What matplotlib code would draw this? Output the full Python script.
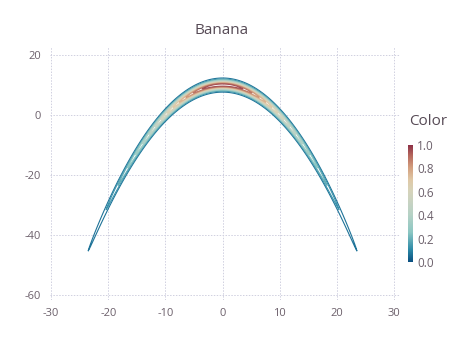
import matplotlib
matplotlib.use("Agg")
import matplotlib.pyplot as plt
import numpy as np
from matplotlib.colors import LinearSegmentedColormap

# Banana density parameters
sigma_x = 10.0      # spread along x
bend = 0.1          # curvature of the banana
sigma_y = 1.0       # spread across the band
n_levels = 15       # number of contour levels

# grid on which the density is evaluated
x_range = (-30, 30)
y_range = (-60, 20)

# colormap stops, sampled from the colour key
cmap_stops = [0.0, 0.1, 0.25, 0.4, 0.5, 0.6, 0.7, 0.8, 0.9, 1.0]
cmap_colors = ["#0b4f80", "#2a88a6", "#8cc7c3", "#b6d2c6", "#c7d3c3",
               "#d6d4bb", "#e0c8a6", "#d4a07f", "#b76a5e", "#8a2c45"]

x_ticks = [-30, -20, -10, 0, 10, 20, 30]
y_ticks = [-60, -40, -20, 0, 20]
key_ticks = [0.0, 0.2, 0.4, 0.6, 0.8, 1.0]

plt.rcParams['font.family'] = ['Open Sans', 'DejaVu Sans']
plt.rcParams['axes.unicode_minus'] = False

cmap = LinearSegmentedColormap.from_list("gadfly", list(zip(cmap_stops, cmap_colors)))

xs = np.linspace(*x_range, 600)
ys = np.linspace(*y_range, 800)
X, Y = np.meshgrid(xs, ys)
Z = np.exp(-X**2 / (2 * sigma_x**2) - (Y + bend * X**2 - 100 * bend)**2 / (2 * sigma_y**2))
Z = Z / Z.max()
levels = np.linspace(0, 1, n_levels + 2)[1:-1]

W, H = 454, 340
fig = plt.figure(figsize=(W / 100, H / 100), dpi=100)
ax = fig.add_axes([50 / W, 1 - 300 / H, 350 / W, 253 / H])

ax.contour(X, Y, Z, levels=levels, cmap=cmap, vmin=0, vmax=1, linewidths=0.8)

ax.set_xlim(-30.2, 31.05)
ax.set_ylim(-61.7, 22.7)
ax.set_xticks(x_ticks)
ax.set_yticks(y_ticks)
ax.grid(True, color="#d0d0e0", linestyle=(0, (1.5, 1.5)), linewidth=0.7)
for s in ax.spines.values():
    s.set_visible(False)
ax.tick_params(length=0, labelsize=8, labelcolor="#6c606b")
ax.tick_params(axis="y", pad=6.5)
ax.tick_params(axis="x", pad=5.5)

fig.text(222 / W, 1 - 31 / H, "Banana", ha="center", va="center",
         fontsize=11, color="#564a55")

# colour key
fig.text(409 / W, 1 - 121 / H, "Color", ha="left", va="center",
         fontsize=11, color="#564a55")
cax = fig.add_axes([408 / W, 1 - 262 / H, 5 / W, 117 / H])
grad = np.linspace(0, 1, 256).reshape(-1, 1)
cax.imshow(grad, aspect="auto", cmap=cmap, origin="lower", extent=[0, 1, 0, 1])
cax.set_xticks([])
cax.yaxis.tick_right()
cax.set_yticks(key_ticks)
cax.set_yticklabels([f"{t:.1f}" for t in key_ticks])
cax.tick_params(length=0, labelsize=8.5, labelcolor="#6c606b", pad=3)
for s in cax.spines.values():
    s.set_visible(False)

fig.savefig("out.png", dpi=100)
